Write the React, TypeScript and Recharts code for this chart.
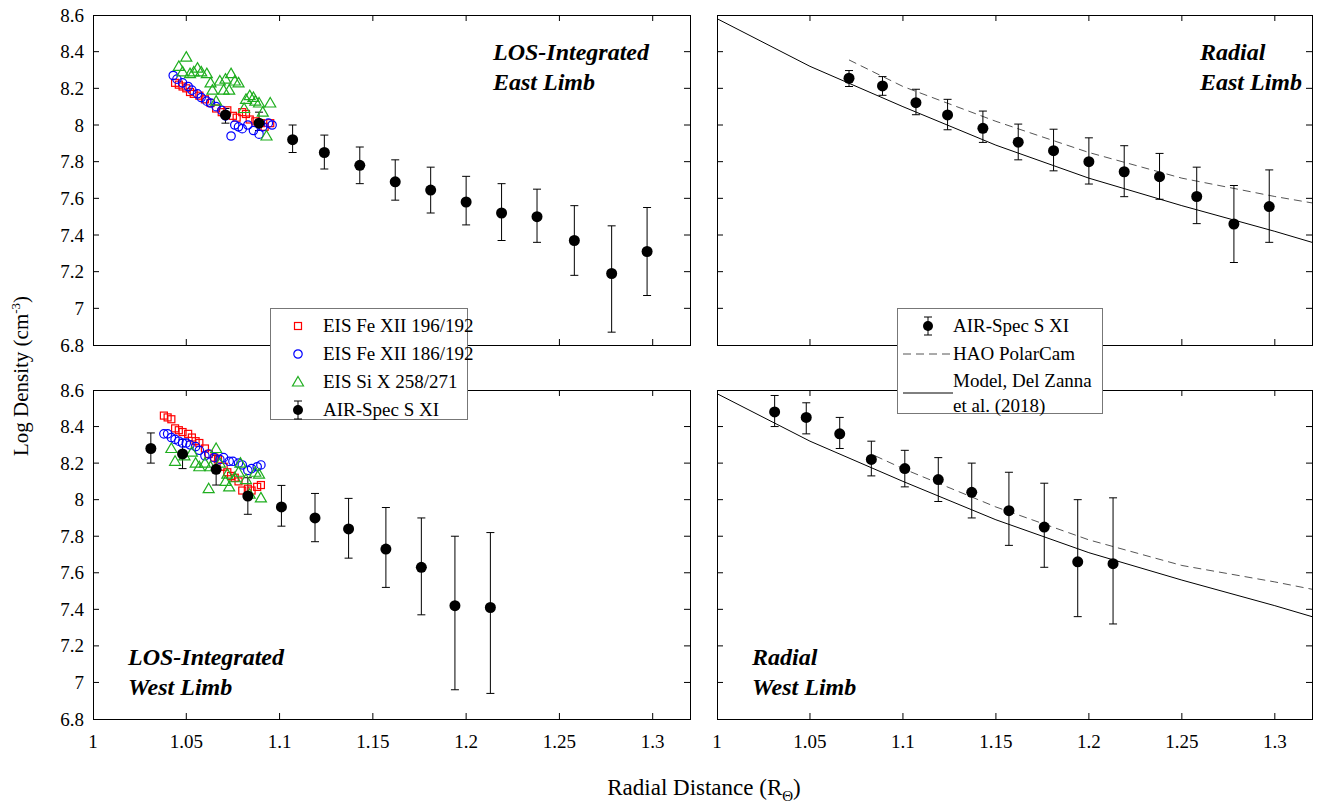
import React from "react"
import { ComposedChart, Scatter, Line, XAxis, YAxis, ErrorBar } from "recharts"

const W = 1320
const H = 805
const FONT = '"Liberation Serif", "Times New Roman", serif'
const YW = 40
const XH = 30

const xTicks = [1, 1.05, 1.1, 1.15, 1.2, 1.25, 1.3]
const yTicks = [6.8, 7, 7.2, 7.4, 7.6, 7.8, 8, 8.2, 8.4, 8.6]

// AIR-Spec S XI, east limb
const eastR = [1.071, 1.089, 1.107, 1.124, 1.143, 1.162, 1.181, 1.2, 1.219, 1.238, 1.258, 1.278, 1.297]
const eastLos = [8.055, 8.01, 7.92, 7.85, 7.78, 7.69, 7.645, 7.58, 7.52, 7.5, 7.37, 7.19, 7.31]
const eastLosLo = [8.01, 7.97, 7.85, 7.76, 7.68, 7.59, 7.52, 7.455, 7.37, 7.36, 7.18, 6.87, 7.07]
const eastLosHi = [8.09, 8.07, 8.0, 7.945, 7.88, 7.81, 7.77, 7.72, 7.68, 7.65, 7.56, 7.45, 7.55]
const eastRad = [8.255, 8.213, 8.122, 8.055, 7.982, 7.906, 7.86, 7.8, 7.745, 7.718, 7.61, 7.46, 7.555]
const eastRadLo = [8.21, 8.162, 8.056, 7.974, 7.905, 7.81, 7.75, 7.678, 7.609, 7.595, 7.462, 7.25, 7.36]
const eastRadHi = [8.297, 8.264, 8.195, 8.14, 8.076, 8.005, 7.977, 7.93, 7.887, 7.845, 7.77, 7.67, 7.755]

// AIR-Spec S XI, west limb
const westR = [1.031, 1.048, 1.066, 1.083, 1.101, 1.119, 1.137, 1.157, 1.176, 1.194, 1.213]
const westLos = [8.28, 8.25, 8.166, 8.02, 7.96, 7.9, 7.84, 7.73, 7.63, 7.42, 7.41]
const westLosLo = [8.2, 8.17, 8.08, 7.92, 7.855, 7.77, 7.68, 7.52, 7.37, 6.96, 6.94]
const westLosHi = [8.365, 8.33, 8.243, 8.12, 8.078, 8.034, 8.007, 7.957, 7.9, 7.8, 7.82]
const westRad = [8.48, 8.45, 8.36, 8.22, 8.17, 8.11, 8.04, 7.94, 7.85, 7.66, 7.65]
const westRadLo = [8.4, 8.36, 8.28, 8.13, 8.07, 7.99, 7.9, 7.75, 7.63, 7.36, 7.32]
const westRadHi = [8.57, 8.53, 8.45, 8.32, 8.27, 8.23, 8.2, 8.15, 8.09, 8.0, 8.01]

// EIS, east limb
const eFe196R = [1.044, 1.046, 1.048, 1.05, 1.052, 1.054, 1.057, 1.06, 1.063, 1.066, 1.069, 1.072, 1.075, 1.077, 1.08, 1.082, 1.084, 1.087, 1.09, 1.092, 1.095]
const eFe196V = [8.23, 8.22, 8.21, 8.2, 8.18, 8.17, 8.16, 8.14, 8.12, 8.09, 8.07, 8.08, 8.05, 8.04, 8.07, 8.06, 8.03, 8.02, 8.01, 7.99, 8.01]
const eFe186R = [1.043, 1.045, 1.048, 1.051, 1.053, 1.056, 1.058, 1.061, 1.063, 1.066, 1.069, 1.071, 1.074, 1.076, 1.078, 1.08, 1.083, 1.086, 1.089, 1.091, 1.094, 1.096]
const eFe186V = [8.27, 8.25, 8.23, 8.21, 8.19, 8.17, 8.15, 8.13, 8.12, 8.1, 8.08, 8.05, 7.94, 8.0, 7.99, 7.98, 8.0, 7.97, 7.95, 7.99, 8.01, 8.0]
const eSiR = [1.046, 1.048, 1.05, 1.052, 1.054, 1.056, 1.058, 1.061, 1.063, 1.064, 1.066, 1.068, 1.07, 1.071, 1.073, 1.074, 1.076, 1.078, 1.081, 1.082, 1.084, 1.086, 1.087, 1.089, 1.091, 1.093, 1.095]
const eSiV = [8.32, 8.29, 8.37, 8.28, 8.29, 8.31, 8.29, 8.28, 8.23, 8.19, 8.13, 8.24, 8.19, 8.25, 8.19, 8.28, 8.24, 8.23, 8.09, 8.14, 8.16, 8.15, 8.13, 8.12, 8.07, 7.94, 8.12]

// EIS, west limb
const wFe196R = [1.038, 1.04, 1.042, 1.044, 1.046, 1.048, 1.051, 1.053, 1.055, 1.057, 1.06, 1.062, 1.065, 1.067, 1.07, 1.072, 1.074, 1.076, 1.078, 1.08, 1.083, 1.085, 1.088, 1.09]
const wFe196V = [8.46, 8.45, 8.44, 8.39, 8.38, 8.37, 8.36, 8.34, 8.32, 8.31, 8.28, 8.25, 8.23, 8.22, 8.18, 8.15, 8.13, 8.12, 8.1, 8.05, 8.06, 8.05, 8.07, 8.08]
const wFe186R = [1.038, 1.04, 1.042, 1.044, 1.046, 1.048, 1.05, 1.052, 1.055, 1.057, 1.06, 1.062, 1.065, 1.068, 1.07, 1.073, 1.075, 1.078, 1.08, 1.083, 1.085, 1.088, 1.09]
const wFe186V = [8.36, 8.36, 8.34, 8.33, 8.32, 8.31, 8.31, 8.3, 8.29, 8.27, 8.24, 8.25, 8.23, 8.22, 8.23, 8.21, 8.21, 8.2, 8.19, 8.16, 8.17, 8.18, 8.19]
const wSiR = [1.042, 1.044, 1.049, 1.053, 1.055, 1.057, 1.06, 1.062, 1.063, 1.066, 1.068, 1.071, 1.072, 1.073, 1.076, 1.078, 1.079, 1.082, 1.084, 1.087, 1.089, 1.09]
const wSiV = [8.28, 8.21, 8.24, 8.26, 8.2, 8.18, 8.2, 8.06, 8.18, 8.28, 8.2, 8.1, 8.14, 8.07, 8.12, 8.15, 8.2, 8.11, 8.03, 8.15, 8.14, 8.01]

// model (Del Zanna et al. 2018) and HAO PolarCam
const modelR = [1.0, 1.05, 1.1, 1.15, 1.2, 1.25, 1.3, 1.32]
const modelV = [8.58, 8.32, 8.1, 7.89, 7.71, 7.56, 7.42, 7.36]
const camEastR = [1.071, 1.1, 1.15, 1.2, 1.25, 1.3, 1.32]
const camEastV = [8.355, 8.21, 8.02, 7.85, 7.71, 7.61, 7.575]
const camWestR = [1.085, 1.1, 1.15, 1.2, 1.25, 1.3, 1.32]
const camWestV = [8.24, 8.17, 7.96, 7.78, 7.64, 7.55, 7.51]

const pts = (xs: number[], ys: number[]) => xs.map((x, i) => ({ x, y: ys[i] }))
const withErr = (xs: number[], ys: number[], lo: number[], hi: number[]) =>
  xs.map((x, i) => ({ x, y: ys[i], err: [ys[i] - lo[i], hi[i] - ys[i]] }))

type Box = { left: number; right: number; top: number; bottom: number }

const TL: Box = { left: 93, right: 690, top: 15, bottom: 345 }
const TR: Box = { left: 717, right: 1312, top: 15, bottom: 345 }
const BL: Box = { left: 93, right: 690, top: 390, bottom: 719 }
const BR: Box = { left: 717, right: 1312, top: 390, bottom: 719 }

const GREEN = "#1fae1f"
const DASH = "#555"

const dot = (p: any) => <circle cx={p.cx} cy={p.cy} r={5.5} fill="#000" />
const square = (p: any) => (
  <rect x={p.cx - 3.5} y={p.cy - 3.5} width={7} height={7} fill="none" stroke="#f00" strokeWidth={1.2} />
)
const ring = (p: any) => <circle cx={p.cx} cy={p.cy} r={4.2} fill="none" stroke="#00f" strokeWidth={1.2} />
const tri = (p: any) => (
  <path
    d={`M${p.cx},${p.cy - 5.5} L${p.cx + 5.5},${p.cy + 4} L${p.cx - 5.5},${p.cy + 4} Z`}
    fill="none"
    stroke={GREEN}
    strokeWidth={1.2}
  />
)

const xTick = (b: Box, label: boolean) => (props: any) => {
  const { x, payload } = props
  const edge = payload.value === 1
  return (
    <g>
      {!edge && <line x1={x} x2={x} y1={b.bottom} y2={b.bottom - 6} stroke="#000" />}
      {!edge && <line x1={x} x2={x} y1={b.top} y2={b.top + 6} stroke="#000" />}
      {label && (
        <text x={x} y={b.bottom + 29} textAnchor="middle" fontSize={19} fontFamily={FONT} fill="#000">
          {String(payload.value)}
        </text>
      )}
    </g>
  )
}

const yTick = (b: Box, label: boolean) => (props: any) => {
  const { y, payload } = props
  const edge = payload.value === 6.8 || payload.value === 8.6
  return (
    <g>
      {!edge && <line x1={b.left} x2={b.left + 6} y1={y} y2={y} stroke="#000" />}
      {!edge && <line x1={b.right} x2={b.right - 6} y1={y} y2={y} stroke="#000" />}
      {label && (
        <text x={b.left - 9} y={y + 6.5} textAnchor="end" fontSize={19} fontFamily={FONT} fill="#000">
          {String(payload.value)}
        </text>
      )}
    </g>
  )
}

function Panel({ box, showX, showY, children }: { box: Box; showX: boolean; showY: boolean; children: React.ReactNode }) {
  const margin = { top: box.top, left: box.left - YW, right: W - box.right, bottom: H - box.bottom - XH }
  return (
    <div style={{ position: "absolute", left: 0, top: 0 }}>
      <ComposedChart width={W} height={H} margin={margin}>
        <XAxis
          type="number"
          dataKey="x"
          domain={[1, 1.32]}
          ticks={xTicks}
          interval={0}
          allowDataOverflow
          height={XH}
          axisLine={false}
          tickLine={false}
          tick={xTick(box, showX)}
        />
        <YAxis
          type="number"
          dataKey="y"
          domain={[6.8, 8.6]}
          ticks={yTicks}
          interval={0}
          allowDataOverflow
          width={YW}
          axisLine={false}
          tickLine={false}
          tick={yTick(box, showY)}
        />
        {children}
      </ComposedChart>
    </div>
  )
}

const Frame = ({ box }: { box: Box }) => (
  <div
    style={{
      position: "absolute",
      left: box.left,
      top: box.top,
      width: box.right - box.left + 1,
      height: box.bottom - box.top + 1,
      border: "1px solid #000",
      boxSizing: "border-box",
      pointerEvents: "none",
    }}
  />
)

const Label = ({ x, y, lines }: { x: number; y: number; lines: string[] }) => (
  <div
    style={{
      position: "absolute",
      left: x,
      top: y,
      fontSize: 24,
      fontWeight: "bold",
      fontStyle: "italic",
      lineHeight: "30px",
      whiteSpace: "nowrap",
    }}
  >
    {lines.map((l) => (
      <div key={l}>{l}</div>
    ))}
  </div>
)

const ErrSym = () => (
  <svg width={16} height={22} style={{ flexShrink: 0 }}>
    <line x1={8} x2={8} y1={2} y2={20} stroke="#000" />
    <line x1={4} x2={12} y1={2} y2={2} stroke="#000" />
    <line x1={4} x2={12} y1={20} y2={20} stroke="#000" />
    <circle cx={8} cy={11} r={5} fill="#000" />
  </svg>
)

const symBox: React.CSSProperties = { width: 16, flexShrink: 0, marginRight: 17, display: "inline-flex", justifyContent: "center" }

export default function App() {
  const rowStyle: React.CSSProperties = { display: "flex", alignItems: "center", height: 28, whiteSpace: "nowrap" }
  return (
    <div
      style={{
        position: "absolute",
        left: 0,
        top: 0,
        width: W,
        height: H,
        background: "#fff",
        fontFamily: FONT,
        color: "#000",
        overflow: "hidden",
      }}
    >
      {/* LOS-integrated east */}
      <Panel box={TL} showX={false} showY={true}>
        <Scatter data={pts(eFe196R, eFe196V)} shape={square} isAnimationActive={false} />
        <Scatter data={pts(eFe186R, eFe186V)} shape={ring} isAnimationActive={false} />
        <Scatter data={pts(eSiR, eSiV)} shape={tri} isAnimationActive={false} />
        <Scatter data={withErr(eastR, eastLos, eastLosLo, eastLosHi)} shape={dot} isAnimationActive={false}>
          <ErrorBar dataKey="err" direction="y" width={4} stroke="#000" strokeWidth={1} />
        </Scatter>
      </Panel>

      {/* radial east */}
      <Panel box={TR} showX={false} showY={false}>
        <Line data={pts(camEastR, camEastV)} dataKey="y" type="linear" stroke={DASH} strokeDasharray="8 5" strokeWidth={1} dot={false} isAnimationActive={false} />
        <Line data={pts(modelR, modelV)} dataKey="y" type="linear" stroke="#000" strokeWidth={1} dot={false} isAnimationActive={false} />
        <Scatter data={withErr(eastR, eastRad, eastRadLo, eastRadHi)} shape={dot} isAnimationActive={false}>
          <ErrorBar dataKey="err" direction="y" width={4} stroke="#000" strokeWidth={1} />
        </Scatter>
      </Panel>

      {/* LOS-integrated west */}
      <Panel box={BL} showX={true} showY={true}>
        <Scatter data={pts(wFe196R, wFe196V)} shape={square} isAnimationActive={false} />
        <Scatter data={pts(wFe186R, wFe186V)} shape={ring} isAnimationActive={false} />
        <Scatter data={pts(wSiR, wSiV)} shape={tri} isAnimationActive={false} />
        <Scatter data={withErr(westR, westLos, westLosLo, westLosHi)} shape={dot} isAnimationActive={false}>
          <ErrorBar dataKey="err" direction="y" width={4} stroke="#000" strokeWidth={1} />
        </Scatter>
      </Panel>

      {/* radial west */}
      <Panel box={BR} showX={true} showY={false}>
        <Line data={pts(camWestR, camWestV)} dataKey="y" type="linear" stroke={DASH} strokeDasharray="8 5" strokeWidth={1} dot={false} isAnimationActive={false} />
        <Line data={pts(modelR, modelV)} dataKey="y" type="linear" stroke="#000" strokeWidth={1} dot={false} isAnimationActive={false} />
        <Scatter data={withErr(westR, westRad, westRadLo, westRadHi)} shape={dot} isAnimationActive={false}>
          <ErrorBar dataKey="err" direction="y" width={4} stroke="#000" strokeWidth={1} />
        </Scatter>
      </Panel>

      <Frame box={TL} />
      <Frame box={TR} />
      <Frame box={BL} />
      <Frame box={BR} />

      <Label x={493} y={37} lines={["LOS-Integrated", "East Limb"]} />
      <Label x={1200} y={37} lines={["Radial", "East Limb"]} />
      <Label x={128} y={642} lines={["LOS-Integrated", "West Limb"]} />
      <Label x={752} y={642} lines={["Radial", "West Limb"]} />

      {/* legend, LOS panels */}
      <div
        style={{
          position: "absolute",
          left: 270,
          top: 308,
          width: 198,
          height: 112,
          boxSizing: "border-box",
          border: "1px solid #777",
          background: "#fff",
          padding: "3px 0 0 19px",
          fontSize: 19,
        }}
      >
        <div style={rowStyle}>
          <span style={symBox}>
            <svg width={16} height={16}>
              <rect x={4.5} y={4.5} width={7} height={7} fill="none" stroke="#f00" strokeWidth={1.2} />
            </svg>
          </span>
          EIS Fe XII 196/192
        </div>
        <div style={rowStyle}>
          <span style={symBox}>
            <svg width={16} height={16}>
              <circle cx={8} cy={8} r={4.2} fill="none" stroke="#00f" strokeWidth={1.2} />
            </svg>
          </span>
          EIS Fe XII 186/192
        </div>
        <div style={rowStyle}>
          <span style={symBox}>
            <svg width={16} height={16}>
              <path d="M8,2.5 L13.5,12 L2.5,12 Z" fill="none" stroke={GREEN} strokeWidth={1.2} />
            </svg>
          </span>
          EIS Si X 258/271
        </div>
        <div style={rowStyle}>
          <span style={symBox}>
            <ErrSym />
          </span>
          AIR-Spec S XI
        </div>
      </div>

      {/* legend, radial panels */}
      <div
        style={{
          position: "absolute",
          left: 897,
          top: 308,
          width: 206,
          height: 106,
          boxSizing: "border-box",
          border: "1px solid #777",
          background: "#fff",
          padding: "3px 0 0 4px",
          fontSize: 19,
        }}
      >
        <div style={rowStyle}>
          <span style={{ width: 51, flexShrink: 0, display: "inline-flex", justifyContent: "center" }}>
            <ErrSym />
          </span>
          AIR-Spec S XI
        </div>
        <div style={rowStyle}>
          <svg width={51} height={10} style={{ flexShrink: 0 }}>
            <line x1={1} x2={51} y1={5} y2={5} stroke={DASH} strokeDasharray="8 5" />
          </svg>
          HAO PolarCam
        </div>
        <div style={{ display: "flex", alignItems: "center" }}>
          <svg width={51} height={10} style={{ flexShrink: 0 }}>
            <line x1={1} x2={51} y1={5} y2={5} stroke="#000" />
          </svg>
          <div style={{ lineHeight: "25px" }}>
            Model, Del Zanna
            <br />
            et al. (2018)
          </div>
        </div>
      </div>

      {/* axis titles */}
      <div
        style={{
          position: "absolute",
          left: 21,
          top: 376,
          transform: "translate(-50%, -50%) rotate(-90deg)",
          fontSize: 21,
          whiteSpace: "nowrap",
        }}
      >
        Log Density (cm<sup style={{ fontSize: 13 }}>-3</sup>)
      </div>
      <div
        style={{
          position: "absolute",
          left: 704,
          top: 790,
          transform: "translate(-50%, -50%)",
          fontSize: 23,
          whiteSpace: "nowrap",
        }}
      >
        Radial Distance (R<sub style={{ fontSize: 15 }}>Θ</sub>)
      </div>
    </div>
  )
}
